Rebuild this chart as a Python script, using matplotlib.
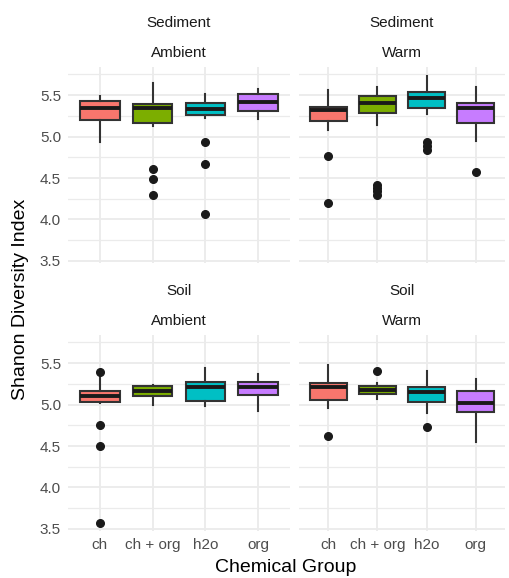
import matplotlib
matplotlib.use("Agg")
from matplotlib import pyplot as plt
import numpy as np

plt.rcParams['font.family'] = ['Liberation Sans', 'DejaVu Sans']

groups = ['ch', 'ch + org', 'h2o', 'org']
colors = ['#F8766D', '#7CAE00', '#00BFC4', '#C77CFF']

# box stats per group: whisker low, q1, median, q3, whisker high
sed_amb_box = [[4.94, 5.20, 5.35, 5.43, 5.49],
               [5.13, 5.17, 5.35, 5.39, 5.65],
               [5.22, 5.26, 5.33, 5.40, 5.51],
               [5.21, 5.31, 5.42, 5.52, 5.57]]
sed_amb_out = [[], [4.61, 4.49, 4.29], [4.93, 4.67, 4.07], []]

sed_warm_box = [[5.08, 5.19, 5.32, 5.36, 5.56],
                [5.14, 5.28, 5.41, 5.49, 5.60],
                [5.27, 5.34, 5.47, 5.54, 5.73],
                [4.95, 5.17, 5.35, 5.40, 5.60]]
sed_warm_out = [[4.77, 4.20], [4.42, 4.38, 4.34, 4.29], [4.93, 4.89, 4.84], [4.57]]

soil_amb_box = [[5.02, 5.03, 5.10, 5.16, 5.35],
                [5.00, 5.10, 5.17, 5.23, 5.24],
                [4.98, 5.04, 5.21, 5.27, 5.44],
                [4.92, 5.11, 5.21, 5.27, 5.37]]
soil_amb_out = [[5.39, 4.75, 4.50, 3.57], [], [], []]

soil_warm_box = [[4.96, 5.06, 5.21, 5.26, 5.48],
                 [5.07, 5.13, 5.18, 5.23, 5.26],
                 [4.90, 5.03, 5.15, 5.21, 5.41],
                 [4.55, 4.91, 5.02, 5.16, 5.31]]
soil_warm_out = [[4.62], [5.40], [4.73], []]

panels = [('Sediment', 'Ambient', sed_amb_box, sed_amb_out),
          ('Sediment', 'Warm', sed_warm_box, sed_warm_out),
          ('Soil', 'Ambient', soil_amb_box, soil_amb_out),
          ('Soil', 'Warm', soil_warm_box, soil_warm_out)]

W, H = 509, 578
fig = plt.figure(figsize=(W / 100, H / 100), dpi=100)

# panel pixel boxes: left, top, right, bottom
px = [(68, 67, 290, 263), (299, 67, 505, 263),
      (68, 335, 290, 531), (299, 335, 505, 531)]

grid_col = '#EBEBEB'
for i, (row, col, box, out) in enumerate(panels):
    l, t, r, b = px[i]
    ax = fig.add_axes([l / W, 1 - b / H, (r - l) / W, (b - t) / H])
    stats = []
    for g, s, o in zip(groups, box, out):
        stats.append(dict(label=g, whislo=s[0], q1=s[1], med=s[2],
                          q3=s[3], whishi=s[4], fliers=o))
    bp = ax.bxp(stats, positions=np.arange(1, 5), widths=0.75,
                patch_artist=True, showcaps=False,
                boxprops=dict(edgecolor='#333333', linewidth=1.5),
                whiskerprops=dict(color='#333333', linewidth=1.5),
                medianprops=dict(color='#1A1A1A', linewidth=2.8),
                flierprops=dict(marker='o', markerfacecolor='#1A1A1A',
                                markeredgecolor='#1A1A1A', markersize=5.5))
    for patch, c in zip(bp['boxes'], colors):
        patch.set_facecolor(c)
    ax.set_xlim(0.4, 4.6)
    ax.set_ylim(3.475, 5.84)
    ax.set_yticks([3.5, 4.0, 4.5, 5.0, 5.5])
    ax.set_yticks([3.75, 4.25, 4.75, 5.25, 5.75], minor=True)
    ax.set_xticks(np.arange(1, 5))
    ax.grid(True, which='major', color=grid_col, linewidth=1.3)
    ax.grid(True, which='minor', axis='y', color=grid_col, linewidth=0.9)
    ax.set_axisbelow(True)
    for sp in ax.spines.values():
        sp.set_visible(False)
    ax.tick_params(length=0, labelsize=11, labelcolor='#4D4D4D', pad=5)
    ax.tick_params(which='minor', length=0)
    if i < 2:
        ax.set_xticklabels([])
    else:
        ax.set_xticklabels(groups)
    if i % 2 == 1:
        ax.set_yticklabels([])
    else:
        ax.set_yticklabels(['3.5', '4.0', '4.5', '5.0', '5.5'])
    cx = (l + r) / 2 / W
    fig.text(cx, 1 - (t - 44) / H, row, ha='center', va='center',
             fontsize=11, color='#1A1A1A')
    fig.text(cx, 1 - (t - 14) / H, col, ha='center', va='center',
             fontsize=11, color='#1A1A1A')

fig.text(286 / W, 1 - 568 / H, 'Chemical Group', ha='center', va='center',
         fontsize=14, color='black')
fig.text(21 / W, 1 - 299 / H, 'Shanon Diversity Index', ha='center',
         va='center', rotation=90, fontsize=14, color='black')

fig.savefig('out.png', dpi=100, facecolor='white')
